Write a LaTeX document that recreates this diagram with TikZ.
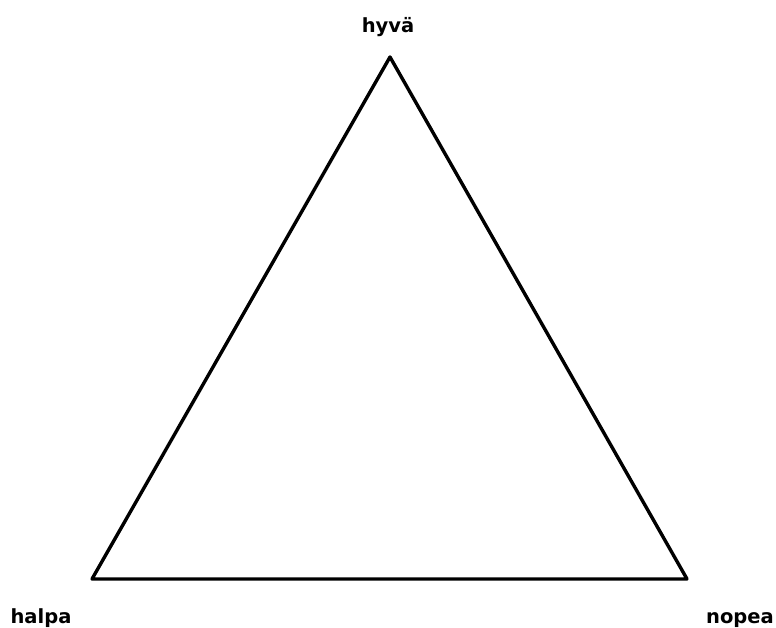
\documentclass[tikz,border=0pt]{standalone}
\usepackage{fontspec}
\newfontfamily\labelfont{DejaVu Sans}
\begin{document}
\begin{tikzpicture}[x=1pt,y=-1pt,
  lbl/.style={font=\labelfont\bfseries\fontsize{19.5}{22}\selectfont, inner sep=0pt, anchor=base},
  edge/.style={draw=black, line width=3.4pt, line join=round, line cap=round}]
\useasboundingbox (0,0) rectangle (776,628);
\coordinate (top) at (390,57);
\coordinate (bl) at (92,579);
\coordinate (br) at (687,579);
\draw[edge] (top) -- (br) -- (bl) -- cycle;
\node[lbl] (hyva) at (388,33) {hyvä};
\node[lbl] (halpa) at (41,623) {halpa};
\node[lbl] (nopea) at (740,623) {nopea};
\end{tikzpicture}
\end{document}
